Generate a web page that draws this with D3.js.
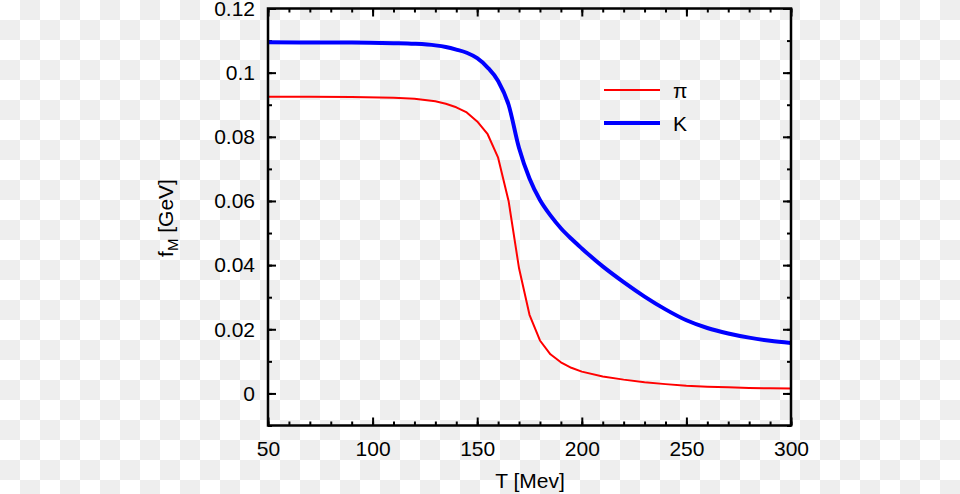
<!DOCTYPE html>
<html>
<meta charset="utf-8">
<style>
body { margin: 0; background: #fff; }
svg { display: block; font-family: "Liberation Sans", Arial, sans-serif; }
.tick text { font-size: 21px; fill: #000; }
.tick line { stroke: #000; stroke-width: 2; }
.domain { display: none; }
.curve { fill: none; stroke-linejoin: round; stroke-linecap: butt; }
</style>
<body>
<script src="https://d3js.org/d3.v7.min.js"></script>
<script>
// temperature grid (MeV)
var T = [50, 70, 90, 110, 120, 130, 135, 140, 145, 150, 155, 160, 165, 170, 175,
	180, 185, 190, 195, 200, 210, 220, 230, 240, 250, 260, 270, 280, 290, 300];
// f_pi [GeV]
var fPi = [0.0925, 0.0925, 0.0924, 0.0922, 0.0919, 0.0911, 0.0903, 0.0892, 0.0876, 0.0848, 0.0808, 0.0735, 0.0600, 0.0390, 0.0245,
	0.0165, 0.0122, 0.0097, 0.0080, 0.0068, 0.0053, 0.0043, 0.0035, 0.0029, 0.0024, 0.0021, 0.0019, 0.0017, 0.0016, 0.0015];
// f_K [GeV]
var fK = [0.1095, 0.1094, 0.1094, 0.1092, 0.1090, 0.1085, 0.1080, 0.1072, 0.1062, 0.1045, 0.1016, 0.0974, 0.0900, 0.0765, 0.0670,
	0.0603, 0.0555, 0.0515, 0.0482, 0.0452, 0.0396, 0.0347, 0.0302, 0.0262, 0.0228, 0.0204, 0.0187, 0.0174, 0.0164, 0.0157];

var xMajor = [50, 100, 150, 200, 250, 300];
var xMinor = d3.range(50, 301, 10);
var yMajor = [0, 0.02, 0.04, 0.06, 0.08, 0.1, 0.12];
var yMinor = d3.range(-1, 13).map(function(i) { return i / 100; });
var legendLabels = ["\u03c0", "K"];
var colors = ["#ff0000", "#0000ff"];

var W = 960, H = 494;
var pLeft = 268, pRight = 791, pTop = 8.5, pBottom = 425.5;

var x = d3.scaleLinear().domain([50, 300]).range([pLeft, pRight]);
var y = d3.scaleLinear().domain([-0.01, 0.12]).range([pBottom, pTop]);

var svg = d3.select("body").append("svg")
	.attr("width", W)
	.attr("height", H);

// checkerboard backdrop (transparent image look)
var pat = svg.append("defs").append("pattern")
	.attr("id", "checker")
	.attr("width", 40).attr("height", 40)
	.attr("patternUnits", "userSpaceOnUse");
pat.append("rect").attr("width", 40).attr("height", 40).attr("fill", "#fff");
pat.append("rect").attr("x", 20).attr("y", 0).attr("width", 20).attr("height", 20).attr("fill", "#eee");
pat.append("rect").attr("x", 0).attr("y", 20).attr("width", 20).attr("height", 20).attr("fill", "#eee");
svg.append("rect").attr("width", W).attr("height", H).attr("fill", "url(#checker)");

// axes with inward ticks
svg.append("g").attr("transform", "translate(0," + pBottom + ")")
	.call(d3.axisBottom(x).tickValues(xMinor).tickSize(-4).tickFormat(""));
svg.append("g").attr("transform", "translate(0," + pBottom + ")")
	.call(d3.axisBottom(x).tickValues(xMajor).tickSize(-8).tickPadding(16).tickFormat(d3.format("d")));
svg.append("g").attr("transform", "translate(0," + pTop + ")")
	.call(d3.axisTop(x).tickValues(xMinor).tickSize(-4).tickFormat(""));
svg.append("g").attr("transform", "translate(0," + pTop + ")")
	.call(d3.axisTop(x).tickValues(xMajor).tickSize(-8).tickFormat(""));

svg.append("g").attr("transform", "translate(" + pLeft + ",0)")
	.call(d3.axisLeft(y).tickValues(yMinor).tickSize(-4).tickFormat(""));
svg.append("g").attr("transform", "translate(" + pLeft + ",0)")
	.call(d3.axisLeft(y).tickValues(yMajor).tickSize(-8).tickPadding(13).tickFormat(function(d) { return String(+d.toFixed(2)); }));
svg.append("g").attr("transform", "translate(" + pRight + ",0)")
	.call(d3.axisRight(y).tickValues(yMinor).tickSize(-4).tickFormat(""));
svg.append("g").attr("transform", "translate(" + pRight + ",0)")
	.call(d3.axisRight(y).tickValues(yMajor).tickSize(-8).tickFormat(""));

// curves
var line = d3.line()
	.x(function(d) { return x(d[0]); })
	.y(function(d) { return y(d[1]); });

svg.append("path")
	.attr("class", "curve")
	.attr("stroke", colors[0])
	.attr("stroke-width", 2)
	.attr("d", line(d3.zip(T, fPi)));

svg.append("path")
	.attr("class", "curve")
	.attr("stroke", colors[1])
	.attr("stroke-width", 4)
	.attr("d", line.curve(d3.curveMonotoneX)(d3.zip(T, fK)));

// frame
svg.append("rect")
	.attr("x", pLeft).attr("y", pTop)
	.attr("width", pRight - pLeft).attr("height", pBottom - pTop)
	.attr("fill", "none")
	.attr("stroke", "#000")
	.attr("stroke-width", 2.5);

// legend
var legend = svg.append("g").attr("transform", "translate(604,90)");
legendLabels.forEach(function(lab, i) {
	legend.append("line")
		.attr("x1", 0).attr("x2", 56)
		.attr("y1", i * 33).attr("y2", i * 33)
		.attr("stroke", colors[i])
		.attr("stroke-width", i === 0 ? 2 : 4);
	legend.append("text")
		.attr("x", 69).attr("y", i * 33 + 8)
		.attr("font-size", "21px")
		.text(lab);
});

// axis titles
svg.append("text")
	.attr("x", 530).attr("y", 488)
	.attr("text-anchor", "middle")
	.attr("font-size", "21px")
	.text("T [Mev]");

var yt = svg.append("text")
	.attr("transform", "translate(173,218) rotate(-90)")
	.attr("text-anchor", "middle")
	.attr("font-size", "21px");
yt.append("tspan").text("f");
yt.append("tspan").attr("font-size", "15px").attr("dy", 5).text("M");
yt.append("tspan").attr("dy", -5).text(" [GeV]");
</script>
</body>
</html>
